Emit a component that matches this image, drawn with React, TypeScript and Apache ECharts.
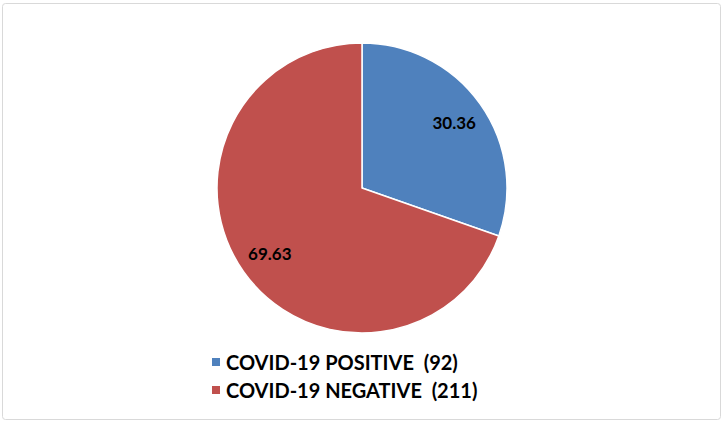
import React, { useEffect, useRef } from "react";
import * as echarts from "echarts";

const categories = ["COVID-19 POSITIVE  (92)", "COVID-19 NEGATIVE  (211)"];
const percentValues = [30.36, 69.63];
const colors = ["#4F81BD", "#C0504D"];

export default function App() {
  const ref = useRef<HTMLDivElement>(null);
  useEffect(() => {
    const chart = echarts.init(ref.current!, null, { renderer: "svg" });
    const data = categories.map((name, i) => ({ name, value: percentValues[i], itemStyle: { color: colors[i] } }));
    chart.setOption({
      animation: false,
      backgroundColor: "#ffffff",
      legend: {
        orient: "vertical",
        left: 205,
        top: 347,
        icon: "rect",
        itemWidth: 10,
        itemHeight: 10,
        itemGap: 8,
        data: categories,
        textStyle: { fontFamily: "Lato", fontWeight: "bold", fontSize: 20, lineHeight: 20, color: "#000" },
      },
      graphic: [
        {
          type: "rect",
          shape: { x: 2.5, y: 3.5, width: 718, height: 416, r: 3 },
          style: { fill: "none", stroke: "#d9d9d9", lineWidth: 1 },
          silent: true,
        },
      ],
      series: [
        {
          type: "pie",
          center: [362, 188],
          radius: [0, 145],
          startAngle: 90,
          clockwise: true,
          data,
          label: { show: false },
          labelLine: { show: false },
          itemStyle: { borderColor: "#fff", borderWidth: 1.5 },
          emphasis: { disabled: true },
        },
        {
          type: "pie",
          center: [362, 188],
          radius: [75, 145],
          startAngle: 90,
          clockwise: true,
          silent: true,
          data: data.map((d) => ({ ...d, itemStyle: { color: "transparent" } })),
          label: {
            show: true,
            position: "inside",
            formatter: "{c}",
            fontFamily: "Lato",
            fontWeight: "bold",
            fontSize: 17,
            color: "#000",
          },
          labelLine: { show: false },
          emphasis: { disabled: true },
        },
      ],
    });
    return () => chart.dispose();
  }, []);
  return <div ref={ref} style={{ position: "fixed", left: 0, top: 0, width: 725, height: 425 }} />;
}
